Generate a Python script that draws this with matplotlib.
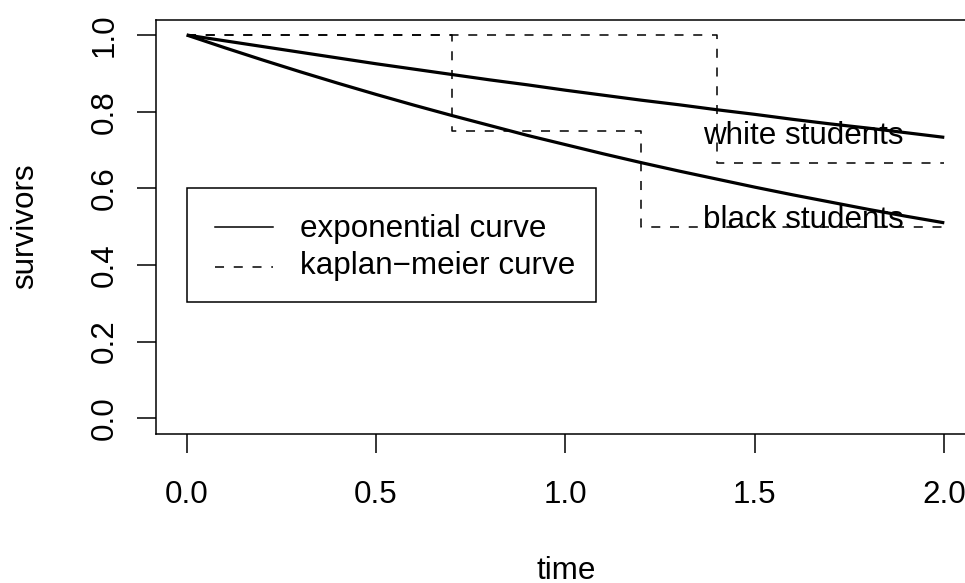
import numpy as np
import matplotlib
matplotlib.use('Agg')
import matplotlib.pyplot as plt
from matplotlib.patches import Rectangle

plt.rcParams['font.family'] = ['Liberation Sans', 'DejaVu Sans']
plt.rcParams['lines.scale_dashes'] = False

# exponential survival curves, every 0.1 time units
time_grid = [0.0, 0.1, 0.2, 0.3, 0.4, 0.5, 0.6, 0.7, 0.8, 0.9, 1.0,
             1.1, 1.2, 1.3, 1.4, 1.5, 1.6, 1.7, 1.8, 1.9, 2.0]
exp_white = [1.000, 0.985, 0.970, 0.955, 0.940, 0.925, 0.911, 0.897, 0.883, 0.870, 0.856,
             0.843, 0.830, 0.818, 0.805, 0.793, 0.780, 0.768, 0.757, 0.745, 0.733]
exp_black = [1.000, 0.967, 0.935, 0.904, 0.874, 0.845, 0.817, 0.790, 0.764, 0.738, 0.714,
             0.690, 0.667, 0.645, 0.624, 0.603, 0.583, 0.564, 0.545, 0.527, 0.510]

# kaplan-meier steps
km_white_t = [0.0, 1.4, 2.0]
km_white_s = [1.0, 0.667, 0.667]
km_black_t = [0.0, 0.7, 1.2, 2.0]
km_black_s = [1.0, 0.75, 0.5, 0.5]

x_ticks = [0.0, 0.5, 1.0, 1.5, 2.0]
y_ticks = [0.0, 0.2, 0.4, 0.6, 0.8, 1.0]

FS = 22.6
THIN = 1.1
DASH = (0, (6.5, 7.0))

fig = plt.figure(figsize=(9.65, 5.83), dpi=100, facecolor='white')
# the R plot region runs past the right edge of the image
ax = fig.add_axes([0.16207, 0.25626, 0.84788, 0.70995])
ax.set_xlim(-0.08, 2.08)
ax.set_ylim(-0.04, 1.04)
ax.patch.set_visible(False)

ax.plot(time_grid, exp_white, color='black', lw=2.3, solid_capstyle='butt')
ax.plot(time_grid, exp_black, color='black', lw=2.3, solid_capstyle='butt')
ax.step(km_white_t, km_white_s, where='post', color='black', lw=THIN, linestyle=DASH)
ax.step(km_black_t, km_black_s, where='post', color='black', lw=THIN, linestyle=DASH)

ax.text(1.628, 0.7154, 'white students', ha='center', va='baseline', fontsize=FS)
ax.text(1.628, 0.4966, 'black students', ha='center', va='baseline', fontsize=FS)

# legend box, drawn by hand like R's legend()
ax.add_patch(Rectangle((0.0, 0.303), 1.081, 0.297, fill=False, ec='black', lw=THIN))
ax.plot([0.074, 0.228], [0.499, 0.499], color='black', lw=THIN)
ax.plot([0.074, 0.228], [0.394, 0.394], color='black', lw=THIN, linestyle=DASH)
ax.text(0.298, 0.474, 'exponential curve', ha='left', va='baseline', fontsize=FS)
ax.text(0.298, 0.376, 'kaplan\u2212meier curve', ha='left', va='baseline', fontsize=FS)

# box: left, top and bottom only (the right side falls outside the image)
for s in ax.spines.values():
    s.set_visible(False)
for xs, ys in [([0, 0], [0, 1]), ([0, 1], [1, 1]), ([0, 1], [0, 0])]:
    ax.plot(xs, ys, transform=ax.transAxes, color='black', lw=THIN,
            clip_on=False, solid_capstyle='projecting')

ax.set_xticks(x_ticks)
ax.set_xticklabels([f'{v:.1f}' for v in x_ticks])
ax.set_yticks(y_ticks)
ax.set_yticklabels([f'{v:.1f}' for v in y_ticks])
ax.tick_params(axis='both', length=13.7, width=THIN, labelsize=FS, direction='out')
ax.tick_params(axis='x', pad=20)
ax.tick_params(axis='y', pad=18)
for lab in ax.get_yticklabels():
    lab.set_rotation(90)
    lab.set_rotation_mode('anchor')
    lab.set_ha('center')
    lab.set_va('baseline')

fig.text(566 / 965, 1 - 579 / 583, 'time', ha='center', va='baseline', fontsize=FS)
fig.text(33.3 / 965, 1 - 226 / 583, 'survivors', rotation=90, rotation_mode='anchor',
         ha='center', va='baseline', fontsize=FS)

fig.savefig('out.png', dpi=100, facecolor='white')
